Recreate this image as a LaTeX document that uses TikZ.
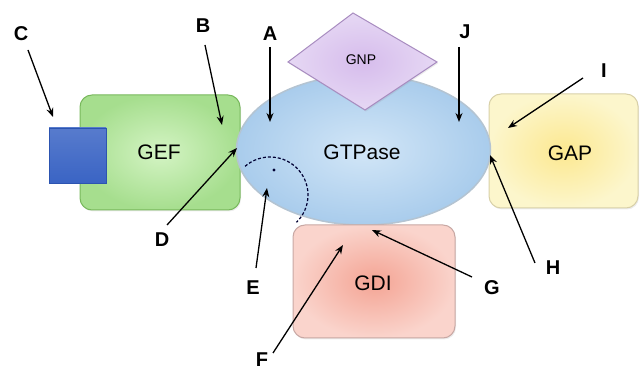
\documentclass[tikz,border=0pt]{standalone}
\usepackage{fontspec}
\setmainfont{Liberation Sans}
\usetikzlibrary{arrows.meta,shapes.geometric,shadows}
\definecolor{gefin}{HTML}{D4F4C4}
\definecolor{gefout}{HTML}{A6DE8E}
\definecolor{gefline}{HTML}{78B85C}
\definecolor{sqfill}{HTML}{3A64C4}
\definecolor{sqline}{HTML}{2C54B0}
\definecolor{gtin}{HTML}{D2E6F7}
\definecolor{gtout}{HTML}{A9CCEC}
\definecolor{gtline}{HTML}{B4C4D2}
\definecolor{gnpin}{HTML}{D6BCEC}
\definecolor{gnpout}{HTML}{E6D8F4}
\definecolor{gnpline}{HTML}{A88CC0}
\definecolor{gapin}{HTML}{FCE890}
\definecolor{gapout}{HTML}{FCF6CC}
\definecolor{gapline}{HTML}{D8D0A8}
\definecolor{gdiin}{HTML}{F4A494}
\definecolor{gdiout}{HTML}{FAD4CC}
\definecolor{gdiline}{HTML}{C8A8A4}
\tikzset{
  box/.style={rounded corners=12pt, line width=1pt},
  lab/.style={font=\fontsize{20}{20}\selectfont\bfseries, inner sep=0pt},
  txt/.style={font=\fontsize{21}{21}\selectfont, inner sep=0pt},
  arr/.style={line width=1.3pt, -{Stealth[length=9pt,width=7pt]}},
}
\begin{document}
\begin{tikzpicture}[x=1pt,y=-1pt]
\useasboundingbox (0,0) rectangle (641,371);
% boxes
\path[box, draw=gefline, inner color=gefin, outer color=gefout, drop shadow={opacity=0.15,shadow xshift=1pt,shadow yshift=-1.5pt}] (80,95) rectangle (240,210);
\path[box, draw=gapline, inner color=gapin, outer color=gapout, drop shadow={opacity=0.15,shadow xshift=1pt,shadow yshift=-1.5pt}] (489,94) rectangle (638,208);
\path[draw=gtline, line width=1.5pt, inner color=gtin, outer color=gtout] (363.5,150) ellipse [x radius=127, y radius=75];
\path[box, draw=gdiline, inner color=gdiin, outer color=gdiout, drop shadow={opacity=0.15,shadow xshift=1pt,shadow yshift=-1.5pt}] (293,225) rectangle (455,338);
\path[draw=sqline, line width=0.8pt, top color=sqfill!85!white, bottom color=sqfill] (49,128) rectangle (106,183);
\path[draw=gnpline, line width=1pt, inner color=gnpin, outer color=gnpout, drop shadow={opacity=0.15,shadow xshift=1pt,shadow yshift=-1.5pt}] (353,13) -- (437,62) -- (365,110) -- (288,62) -- cycle;
% texts
\node[txt] (gef) at (159,152) {GEF};
\node[txt] (gtp) at (362,152) {GTPase};
\node[txt] (gap) at (570,153) {GAP};
\node[txt] (gdi) at (373,283) {GDI};
\node[font=\fontsize{14}{14}\selectfont, inner sep=0pt] (gnp) at (361,60) {GNP};
% dashed arc
\coordinate (ac) at (270,195);
\draw[dashed, line width=1.2pt, dash pattern=on 3pt off 2pt, color=black!80!blue] ([shift={(131:38pt)}]ac) arc[start angle=131, end angle=-46, radius=38pt];
\fill[black!80!blue] (274,170) circle (1.6pt) coordinate (dot);
% labels
\node[lab] (C) at (21,34) {C};
\node[lab] (B) at (203,26) {B};
\node[lab] (A) at (270,34) {A};
\node[lab] (J) at (465,32) {J};
\node[lab] (I) at (604,71) {I};
\node[lab] (H) at (553,268) {H};
\node[lab] (G) at (492,288) {G};
\node[lab] (F) at (262,360) {F};
\node[lab] (E) at (253,288) {E};
\node[lab] (D) at (162,240) {D};
% arrow ends
\coordinate (Ct) at (28,50);   \coordinate (Ch) at (53,117);
\coordinate (Bt) at (205,45);  \coordinate (Bh) at (222,125);
\coordinate (At) at (270,47);  \coordinate (Ah) at (270,122);
\coordinate (Jt) at (459,47);  \coordinate (Jh) at (459,122);
\coordinate (It) at (583,78);  \coordinate (Ih) at (508,128);
\coordinate (Ht) at (535,263); \coordinate (Hh) at (490,155);
\coordinate (Gt) at (472,277); \coordinate (Gh) at (372,230);
\coordinate (Ft) at (273,353); \coordinate (Fh) at (343,245);
\coordinate (Et) at (256,268); \coordinate (Eh) at (267,188);
\coordinate (Dt) at (167,225); \coordinate (Dh) at (237,148);
\foreach \k in {C,B,A,J,I,H,G,F,E,D}
  \draw[arr] (\k t) -- (\k h);
\end{tikzpicture}
\end{document}
